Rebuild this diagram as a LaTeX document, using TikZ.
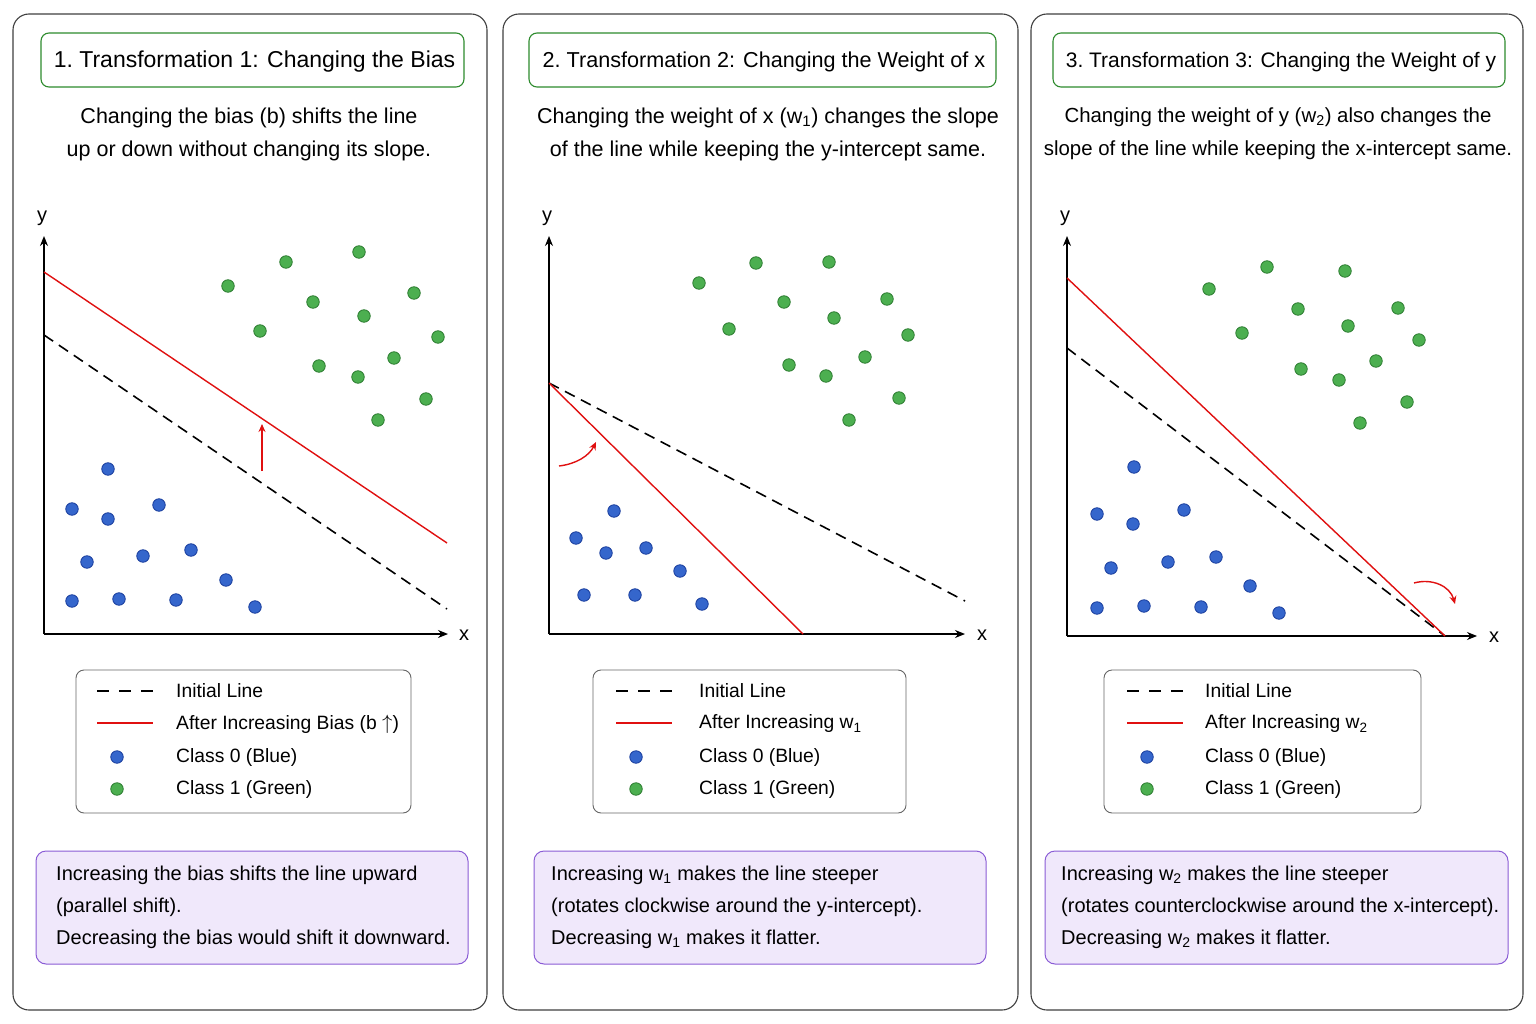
\documentclass[tikz,border=0pt]{standalone}
\usepackage{fontspec}
\setmainfont{Liberation Sans}
\usetikzlibrary{arrows.meta}
\definecolor{titlegreen}{HTML}{2E8B2E}
\definecolor{notepurple}{HTML}{8A5CD6}
\definecolor{notefill}{HTML}{F0E8FB}
\definecolor{bluefill}{HTML}{3566CC}
\definecolor{blueedge}{HTML}{1B3F9E}
\definecolor{greenfill}{HTML}{4CAF50}
\definecolor{greenedge}{HTML}{2E7D32}
\definecolor{redline}{HTML}{E01010}
\newcommand{\tfontA}{\fontsize{23}{26}\selectfont}
\newcommand{\tfontB}{\fontsize{21.6}{26}\selectfont}
\newcommand{\tfontC}{\fontsize{21}{26}\selectfont}
\newcommand{\sfont}{\fontsize{21.5}{33}\selectfont}
\newcommand{\sfontC}{\fontsize{20.4}{33}\selectfont}
\newcommand{\lfont}{\fontsize{19.3}{22}\selectfont}
\newcommand{\nfont}{\fontsize{20}{32}\selectfont}
\begin{document}
\begin{tikzpicture}[x=1pt,y=-1pt,
  panel/.style={draw=black!75, line width=1.1pt, rounded corners=16pt, fill=white, inner sep=0pt},
  titlebox/.style={draw=titlegreen, line width=1.1pt, rounded corners=8pt, fill=white, inner sep=0pt},
  titletxt/.style={inner sep=0pt},
  notebox/.style={draw=notepurple, fill=notefill, line width=1pt, rounded corners=10pt, inner sep=0pt},
  legbox/.style={draw=black!60, line width=0.9pt, rounded corners=8pt, fill=white, inner sep=0pt},
  c0/.style={circle, draw=blueedge, fill=bluefill, minimum size=12.5pt, inner sep=0pt, line width=0.8pt},
  c1/.style={circle, draw=greenedge, fill=greenfill, minimum size=12.5pt, inner sep=0pt, line width=0.8pt},
  axis/.style={line width=1.3pt, -{Stealth[length=10pt,width=8pt]}},
  initline/.style={dash pattern=on 11pt off 7pt, line width=1.6pt},
  leginit/.style={dash pattern=on 12pt off 10pt, line width=1.6pt},
  newline/.style={redline, line width=1.4pt},
  movearrow/.style={redline, line width=1.4pt, -{Stealth[length=8pt,width=7pt]}},
  lab/.style={inner sep=0pt, font=\fontsize{20}{22}\selectfont},
  subtxt/.style={align=center, inner sep=0pt, font=\sfont},
  notetxt/.style={align=left, anchor=north west, inner sep=0pt, font=\nfont},
  legtxt/.style={anchor=west, inner sep=0pt, font=\lfont}
]
\useasboundingbox (0,0) rectangle (1536,1024);
\fill[white] (0,0) rectangle (1536,1024);

% ---------- panels ----------
\node[panel, minimum width=474pt, minimum height=996pt] (p1) at (250,512) {};
\node[panel, minimum width=515pt, minimum height=996pt] (p2) at (760.5,512) {};
\node[panel, minimum width=492pt, minimum height=996pt] (p3) at (1277,512) {};

% ---------- titles ----------
\node[titlebox, minimum width=423pt, minimum height=54pt] (t1) at (252.5,60) {};
\node[titlebox, minimum width=467pt, minimum height=54pt] (t2) at (762.5,60) {};
\node[titlebox, minimum width=452pt, minimum height=54pt] (t3) at (1279,60) {};
\node[titletxt, font=\tfontA] (tt1) at (254.5,62) {1.\ Transformation 1: Changing the Bias};
\node[titletxt, font=\tfontB] (tt2) at (764,62) {2.\ Transformation 2: Changing the Weight of x};
\node[titletxt, font=\tfontC] (tt3) at (1281,62) {3.\ Transformation 3: Changing the Weight of y};

% ---------- subtitles ----------
\node[subtxt] (s1) at (249,134) {Changing the bias (b) shifts the line\\up or down without changing its slope.};
\node[subtxt] (s2) at (768,134) {Changing the weight of x (w\textsubscript{1}) changes the slope\\of the line while keeping the y-intercept same.};
\node[subtxt, font=\sfontC] (s3) at (1278,134) {Changing the weight of y (w\textsubscript{2}) also changes the\\slope of the line while keeping the x-intercept same.};

% ================= PANEL 1 =================
\coordinate (o1) at (44,634);
\coordinate (y1) at (44,236);
\coordinate (x1) at (448,634);
\draw[axis] (o1) -- (y1);
\draw[axis] (o1) -- (x1);
\node[lab] (yl1) at (42,218) {y};
\node[lab] (xl1) at (464,635) {x};
\coordinate (d1a) at (44,335); \coordinate (d1b) at (447,609);
\coordinate (r1a) at (44,272); \coordinate (r1b) at (447,543);
\draw[initline] (d1a) -- (d1b);
\draw[newline] (r1a) -- (r1b);
\coordinate (m1a) at (262,471); \coordinate (m1b) at (262,424);
\draw[movearrow] (m1a) -- (m1b);
\foreach \x/\y [count=\i] in {108/469,72/509,108/519,159/505,87/562,143/556,191/550,72/601,119/599,176/600,226/580,255/607}
  \node[c0] (b1\i) at (\x,\y) {};
\foreach \x/\y [count=\i] in {228/286,286/262,359/252,313/302,364/316,414/293,260/331,438/337,394/358,319/366,358/377,426/399,378/420}
  \node[c1] (g1\i) at (\x,\y) {};

% ================= PANEL 2 =================
\coordinate (o2) at (549,634);
\coordinate (y2) at (549,236);
\coordinate (x2) at (965,634);
\draw[axis] (o2) -- (y2);
\draw[axis] (o2) -- (x2);
\node[lab] (yl2) at (547,218) {y};
\node[lab] (xl2) at (982,635) {x};
\coordinate (d2a) at (549,383); \coordinate (d2b) at (965,601);
\coordinate (r2b) at (803,634);
\draw[initline] (d2a) -- (d2b);
\draw[newline] (d2a) -- (r2b);
\coordinate (m2a) at (559,466); \coordinate (m2b) at (596,442);
\draw[movearrow] (m2a) .. controls (576,464) and (589,456) .. (m2b);
\foreach \x/\y [count=\i] in {614/511,576/538,606/553,646/548,680/571,584/595,635/595,702/604}
  \node[c0] (b2\i) at (\x,\y) {};
\foreach \x/\y [count=\i] in {699/283,756/263,829/262,784/302,834/318,887/299,729/329,908/335,865/357,789/365,826/376,899/398,849/420}
  \node[c1] (g2\i) at (\x,\y) {};

% ================= PANEL 3 =================
\coordinate (o3) at (1067,636);
\coordinate (y3) at (1067,236);
\coordinate (x3) at (1477,636);
\draw[axis] (o3) -- (y3);
\draw[axis] (o3) -- (x3);
\node[lab] (yl3) at (1065,218) {y};
\node[lab] (xl3) at (1494,637) {x};
\coordinate (d3a) at (1067,348); \coordinate (d3b) at (1445,636);
\coordinate (r3a) at (1067,278);
\draw[initline] (d3a) -- (d3b);
\draw[newline] (r3a) -- (d3b);
\coordinate (m3a) at (1414,583); \coordinate (m3b) at (1455,604);
\draw[movearrow] (m3a) .. controls (1432,578) and (1450,586) .. (m3b);
\foreach \x/\y [count=\i] in {1134/467,1097/514,1133/524,1184/510,1111/568,1168/562,1216/557,1097/608,1144/606,1201/607,1250/586,1279/613}
  \node[c0] (b3\i) at (\x,\y) {};
\foreach \x/\y [count=\i] in {1209/289,1267/267,1345/271,1298/309,1348/326,1398/308,1242/333,1419/340,1376/361,1301/369,1339/380,1407/402,1360/423}
  \node[c1] (g3\i) at (\x,\y) {};

% ---------- legends ----------
\node[legbox, minimum width=335pt, minimum height=143pt] (L1) at (243.5,741.5) {};
\node[legbox, minimum width=313pt, minimum height=143pt] (L2) at (749.5,741.5) {};
\node[legbox, minimum width=317pt, minimum height=143pt] (L3) at (1262.5,741.5) {};
\foreach \k/\lx/\dx/\tx/\lbl in {1/97/117/176/After Increasing Bias (b $\uparrow$),2/616/636/699/After Increasing w\textsubscript{1},3/1127/1147/1205/After Increasing w\textsubscript{2}} {
  \coordinate (la\k) at (\lx,691); \coordinate (lb\k) at (\lx+56,691);
  \draw[leginit] (la\k) -- (lb\k);
  \coordinate (lc\k) at (\lx,723); \coordinate (ld\k) at (\lx+56,723);
  \draw[newline] (lc\k) -- (ld\k);
  \node[c0] (ldb\k) at (\dx,757) {};
  \node[c1] (ldg\k) at (\dx,789) {};
  \node[legtxt] (lt1\k) at (\tx,691) {Initial Line};
  \node[legtxt] (lt2\k) at (\tx,724) {\lbl};
  \node[legtxt] (lt3\k) at (\tx,757) {Class 0 (Blue)};
  \node[legtxt] (lt4\k) at (\tx,789) {Class 1 (Green)};
}

% ---------- notes ----------
\node[notebox, minimum width=432pt, minimum height=113pt] (n1) at (252,907.5) {};
\node[notebox, minimum width=452pt, minimum height=113pt] (n2) at (760,907.5) {};
\node[notebox, minimum width=463pt, minimum height=113pt] (n3) at (1276.5,907.5) {};
\node[notetxt] (nt1) at (56,866) {Increasing the bias shifts the line upward\\(parallel shift).\\Decreasing the bias would shift it downward.};
\node[notetxt] (nt2) at (551,866) {Increasing w\textsubscript{1} makes the line steeper\\(rotates clockwise around the y-intercept).\\Decreasing w\textsubscript{1} makes it flatter.};
\node[notetxt] (nt3) at (1061,866) {Increasing w\textsubscript{2} makes the line steeper\\(rotates counterclockwise around the x-intercept).\\Decreasing w\textsubscript{2} makes it flatter.};
\end{tikzpicture}
\end{document}
